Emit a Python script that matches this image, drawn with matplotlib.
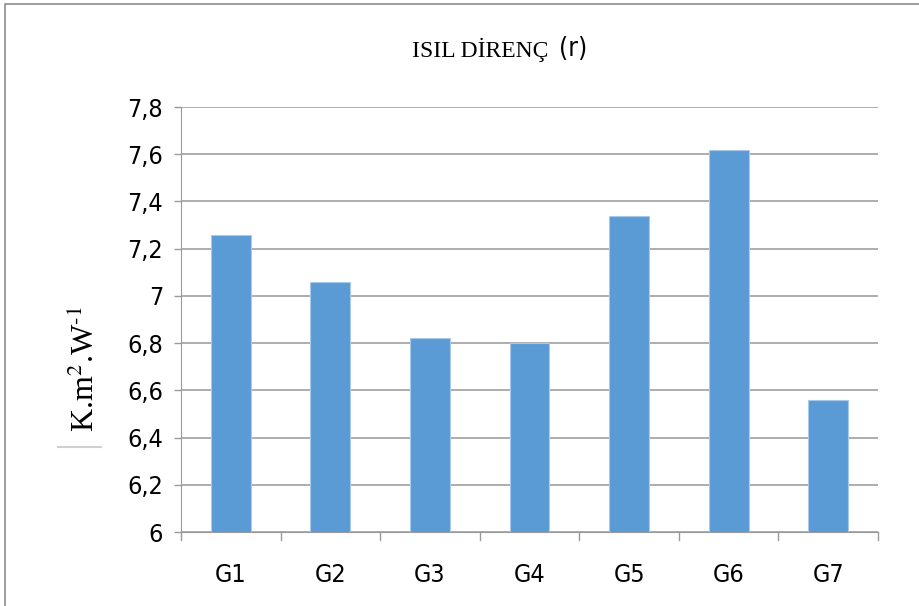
import matplotlib.pyplot as plt
from matplotlib.lines import Line2D

groups = ['G1', 'G2', 'G3', 'G4', 'G5', 'G6', 'G7']
resistance = [7.26, 7.06, 6.82, 6.80, 7.34, 7.62, 6.56]
y_ticks = [6, 6.2, 6.4, 6.6, 6.8, 7, 7.2, 7.4, 7.6, 7.8]
y_tick_labels = ['6', '6,2', '6,4', '6,6', '6,8', '7', '7,2', '7,4', '7,6', '7,8']

tick_font = dict(family='DejaVu Sans', fontstretch='condensed', fontsize=18)

fig = plt.figure(figsize=(9.2, 6.06), dpi=100)
ax = fig.add_axes([181 / 920, 1 - 532 / 606, (878 - 181) / 920, (532 - 107) / 606])

x = range(len(groups))
ax.bar(x, resistance, width=0.4, color='#5b9bd5', edgecolor='#a9c9ea', linewidth=0.8, zorder=3)

ax.set_ylim(6, 7.8)
ax.set_xlim(-0.5, len(groups) - 0.5)
ax.set_yticks(y_ticks)
ax.set_yticklabels(y_tick_labels, **tick_font)
ax.set_xticks(list(x))
ax.set_xticklabels(groups, **tick_font)
ax.tick_params(axis='x', length=0, pad=22)
ax.tick_params(axis='y', length=5, color='#9a9a9a', pad=8, width=1)

# category boundary ticks under the x axis
for b in range(len(groups) + 1):
    ax.plot([b - 0.5, b - 0.5], [6, 5.967], color='#9a9a9a', lw=1, clip_on=False, zorder=2)

ax.grid(axis='y', color='#a0a0a0', lw=1.2, zorder=0)
for s in ['top', 'right']:
    ax.spines[s].set_visible(False)
ax.spines['left'].set_color('#9a9a9a')
ax.spines['bottom'].set_color('#9a9a9a')

# title: serif part plus sans "(r)"
fig.text(480 / 920, 1 - 50 / 606, 'ISIL DİRENÇ', family='Liberation Serif', fontsize=17,
         ha='center', va='center')
fig.text(573 / 920, 1 - 49 / 606, '(r)', family='DejaVu Sans', fontstretch='condensed',
         fontsize=19, ha='center', va='center')

fig.text(85 / 920, 1 - 369 / 606, r'K.m$^{2}$.W$^{\text{-}1}$', family='Liberation Serif',
         fontsize=23, rotation=90, ha='center', va='center', math_fontfamily='stix')
fig.add_artist(Line2D([58 / 920, 101 / 920], [1 - 447 / 606, 1 - 447 / 606],
                      color='#d0d0d0', lw=1.5))

# outer chart border
fig.add_artist(Line2D([5 / 920, 5 / 920, 1], [0, 1 - 4 / 606, 1 - 4 / 606],
                      color='#8c8c8c', lw=1.2))

fig.savefig('out.png', dpi=100)
